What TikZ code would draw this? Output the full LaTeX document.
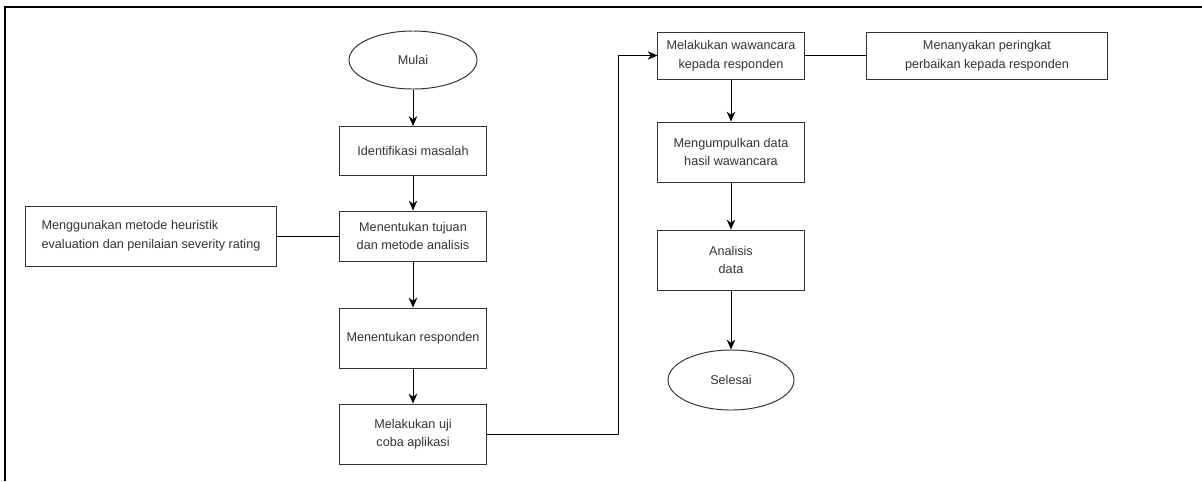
\documentclass[tikz,border=0pt]{standalone}
\usepackage{fontspec}
\setmainfont{Liberation Sans}
\usetikzlibrary{shapes.geometric,arrows.meta}
\definecolor{ink}{HTML}{333333}
\begin{document}
\begin{tikzpicture}[x=0.025cm,y=-0.025cm,font=\fontsize{9}{13.2}\selectfont,
		box/.style={draw=ink,line width=0.7pt,text=ink,align=center,minimum width=3.675cm,minimum height=1.5cm,inner sep=2pt},
		oval/.style={draw=ink,line width=0.7pt,text=ink,ellipse,minimum width=3.2cm,minimum height=1.45cm,inner sep=0pt},
		>={Stealth[length=7pt,width=6pt]}]
		\useasboundingbox (0,0) rectangle (1202,481);
		\draw[line width=0.8pt] (5,481) -- (5,7) -- (1202,7);
		\node[oval] (1) at (413,60) {Mulai};
		\node[box,minimum height=1.225cm] (2) at (413,151) {Identifikasi masalah};
		\node[box,minimum height=1.25cm] (3) at (413,236) {Menentukan tujuan\\dan metode analisis};
		\node[box,align=left,minimum width=6.25cm] (4) at (151,236) {Menggunakan metode heuristik\\evaluation dan penilaian severity rating};
		\node[box] (5) at (413,338) {Menentukan responden};
		\node[box] (6) at (413,434) {Melakukan uji\\coba aplikasi};
		\node[box,minimum width=3.65cm,minimum height=1.175cm] (7) at (731,55.5) {Melakukan wawancara\\kepada responden};
		\node[box,minimum width=6cm,minimum height=1.175cm] (8) at (987,55.5) {Menanyakan peringkat\\perbaikan kepada responden};
		\node[box,minimum width=3.65cm] (9) at (731,152) {Mengumpulkan data\\hasil wawancara};
		\node[box,minimum width=3.65cm] (10) at (731,260) {Analisis\\data};
		\node[oval,minimum width=3.15cm,minimum height=1.5cm] (11) at (731,380) {Selesai};
		\coordinate (c) at (618,55.5);
		\draw[->] (1) -- (2);
		\draw[->] (2) -- (3);
		\draw (4) -- (3);
		\draw[->] (3) -- (5);
		\draw[->] (5) -- (6);
		\draw[->] (6) -| (c) -- (7);
		\draw (7) -- (8);
		\draw[->] (7) -- (9);
		\draw[->] (9) -- (10);
		\draw[->] (10) -- (11);
	\end{tikzpicture}
\end{document}
